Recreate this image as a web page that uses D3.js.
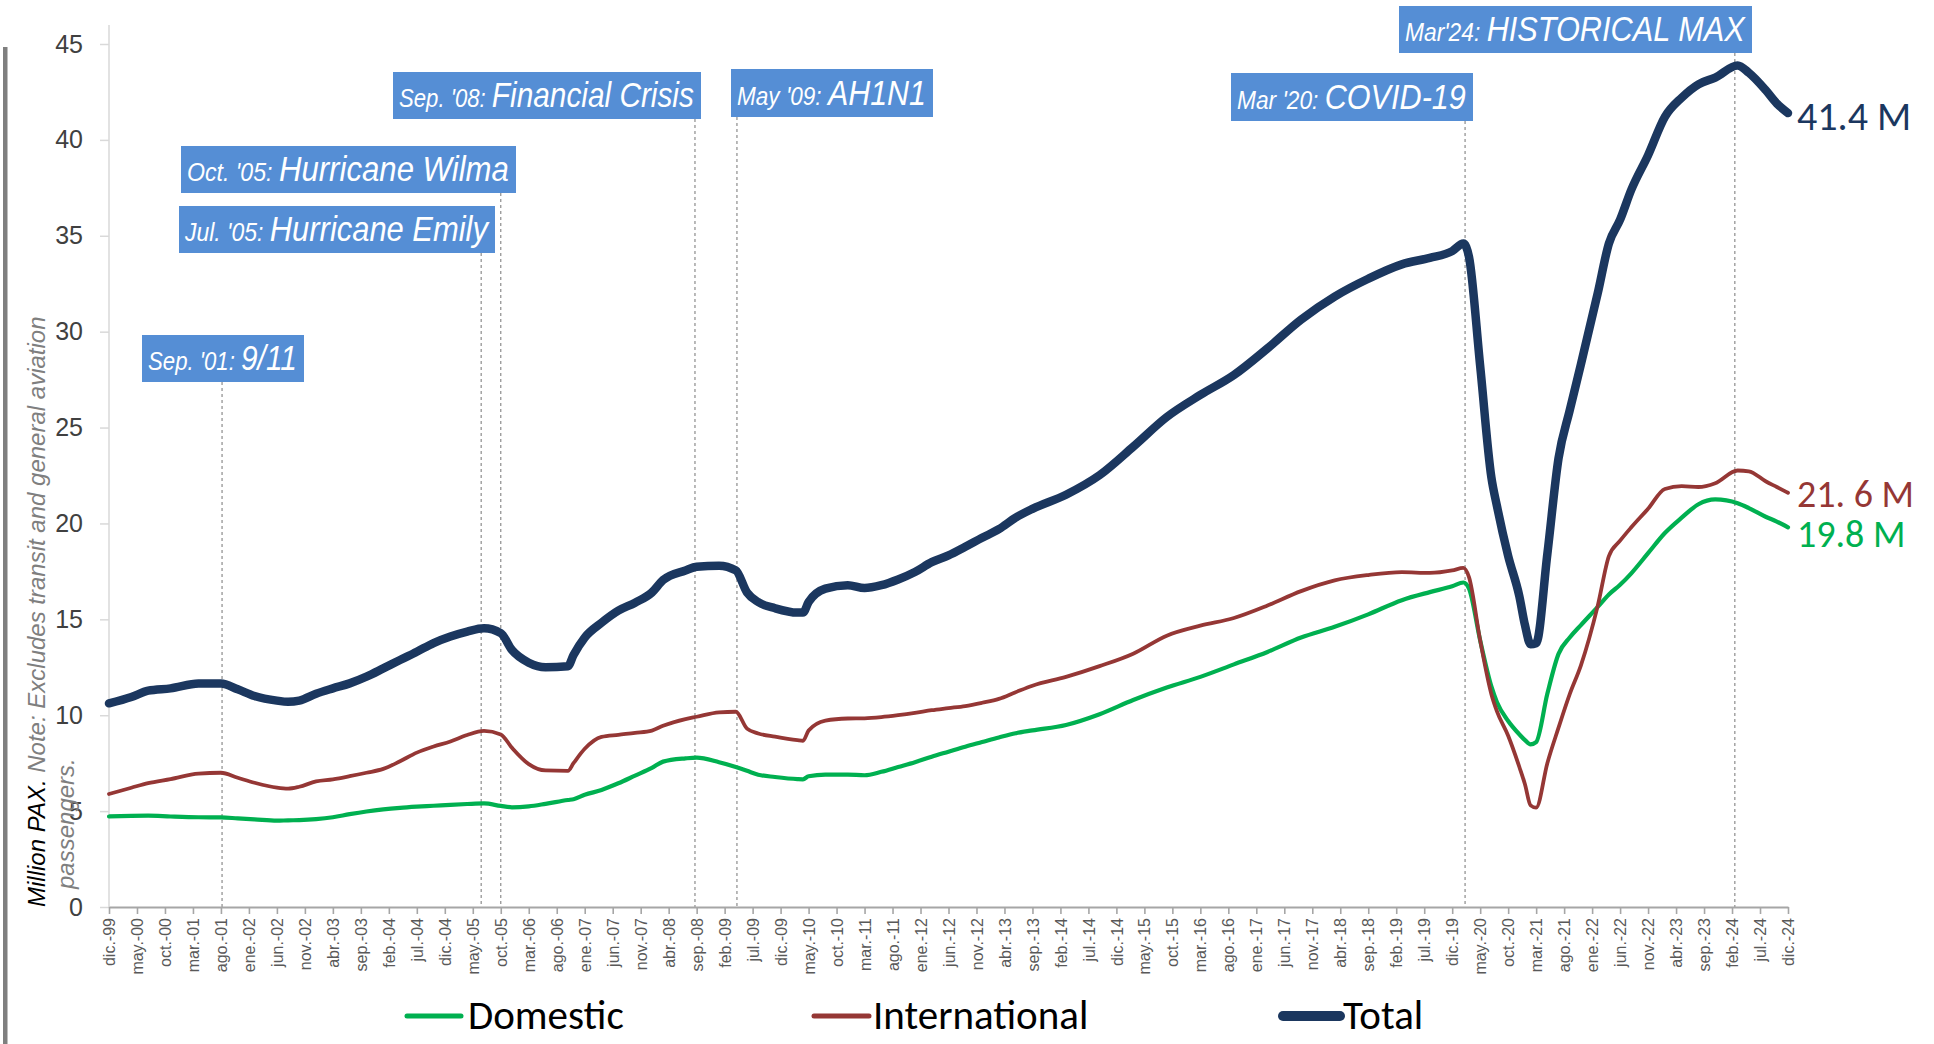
<!DOCTYPE html>
<html>
<head>
<meta charset="utf-8">
<script src="https://cdn.jsdelivr.net/npm/d3@7"></script>
<style>
body { margin: 0; background: #fff; }
svg { display: block; }
</style>
</head>
<body>
<script>
const months = ["1999-12","2000-04","2000-07","2000-11","2001-04","2001-08","2001-11","2002-02","2002-06","2002-08",
  "2002-10","2003-01","2003-04","2003-07","2003-10","2004-01","2004-04","2004-07","2004-10","2005-01",
  "2005-04","2005-07","2005-10","2005-12","2006-03","2006-06","2006-10","2006-11","2007-01","2007-04",
  "2007-07","2007-10","2008-01","2008-03","2008-07","2008-09","2009-01","2009-04","2009-06","2009-08",
  "2009-11","2010-03","2010-04","2010-05","2010-08","2010-12","2011-03","2011-06","2011-09","2011-12",
  "2012-03","2012-06","2012-09","2012-12","2013-03","2013-06","2013-09","2014-03","2014-09","2015-03",
  "2015-09","2016-03","2016-09","2017-03","2017-09","2018-03","2018-09","2019-03","2019-08","2019-12",
  "2020-02","2020-03","2020-05","2020-07","2020-08","2020-10","2020-12","2021-01","2021-02","2021-03",
  "2021-05","2021-07","2021-09","2021-11","2022-02","2022-04","2022-06","2022-08","2022-11","2023-02",
  "2023-05","2023-08","2023-11","2024-03","2024-05","2024-08","2024-10","2024-12"];

const total = [10.62,10.95,11.28,11.40,11.65,11.66,11.35,11.0,10.76,10.70,
  10.76,11.12,11.40,11.66,12.01,12.44,12.88,13.31,13.76,14.1,
  14.36,14.53,14.28,13.4,12.74,12.5,12.55,13.14,14.05,14.82,
  15.45,15.87,16.4,17.05,17.55,17.74,17.8,17.55,16.4,15.9,
  15.58,15.35,15.35,15.9,16.6,16.78,16.63,16.78,17.08,17.47,
  17.98,18.33,18.78,19.25,19.7,20.3,20.76,21.5,22.52,24.0,
  25.55,26.7,27.74,29.13,30.63,31.83,32.76,33.51,33.85,34.2,
  34.6,33.9,28.2,22.4,20.9,18.3,16.2,14.7,13.7,13.75,
  18.4,23.4,25.9,28.3,32.0,34.6,35.84,37.4,39.2,41.2,
  42.2,42.9,43.25,43.88,43.5,42.6,41.9,41.4];

const international = [5.89,6.22,6.46,6.67,6.96,7.0,6.74,6.48,6.22,6.17,
  6.27,6.55,6.66,6.82,7.0,7.2,7.6,8.05,8.37,8.63,
  8.97,9.18,9.0,8.3,7.45,7.12,7.1,7.5,8.25,8.87,
  8.98,9.08,9.2,9.45,9.8,9.92,10.15,10.18,9.3,9.05,
  8.88,8.7,8.67,9.2,9.72,9.83,9.84,9.9,10.0,10.12,
  10.26,10.37,10.48,10.65,10.85,11.2,11.54,12.0,12.56,13.21,
  14.15,14.67,15.07,15.72,16.47,17.03,17.31,17.46,17.42,17.55,
  17.68,17.2,13.9,11.1,10.2,8.93,7.3,6.4,5.3,5.18,
  7.5,9.35,11.1,12.6,15.7,18.3,19.1,19.8,20.77,21.8,
  21.95,21.9,22.1,22.76,22.72,22.2,21.9,21.6];

const domestic = [4.72,4.75,4.76,4.72,4.68,4.67,4.62,4.57,4.50,4.52,
  4.53,4.58,4.68,4.84,4.98,5.09,5.17,5.23,5.28,5.33,
  5.37,5.40,5.27,5.2,5.25,5.38,5.58,5.62,5.85,6.1,
  6.45,6.85,7.25,7.58,7.75,7.79,7.55,7.3,7.1,6.9,
  6.78,6.67,6.66,6.82,6.9,6.9,6.87,7.05,7.3,7.55,
  7.84,8.1,8.36,8.6,8.84,9.06,9.21,9.49,10.05,10.79,
  11.44,12.0,12.65,13.3,14.05,14.61,15.26,16.0,16.42,16.72,
  16.92,16.6,13.9,11.5,10.68,9.7,9.0,8.7,8.48,8.6,
  11.12,13.2,14.05,14.7,15.65,16.3,16.8,17.4,18.45,19.5,
  20.3,21.0,21.25,21.05,20.8,20.35,20.1,19.8];

const tickLabels = ["dic.-99","may.-00","oct.-00","mar.-01","ago.-01","ene.-02","jun.-02","nov.-02","abr.-03","sep.-03",
  "feb.-04","jul.-04","dic.-04","may.-05","oct.-05","mar.-06","ago.-06","ene.-07","jun.-07","nov.-07",
  "abr.-08","sep.-08","feb.-09","jul.-09","dic.-09","may.-10","oct.-10","mar.-11","ago.-11","ene.-12",
  "jun.-12","nov.-12","abr.-13","sep.-13","feb.-14","jul.-14","dic.-14","may.-15","oct.-15","mar.-16",
  "ago.-16","ene.-17","jun.-17","nov.-17","abr.-18","sep.-18","feb.-19","jul.-19","dic.-19","may.-20",
  "oct.-20","mar.-21","ago.-21","ene.-22","jun.-22","nov.-22","abr.-23","sep.-23","feb.-24","jul.-24","dic.-24"];
const yTicks = [0,5,10,15,20,25,30,35,40,45];

const seriesNames = ["Domestic","International","Total"];
const endLabels = ["19.8 M","21. 6 M","41.4 M"];

// events: months after dic-99 where the dashed lines sit
const eventAt = [20.2, 66.5, 70, 104.7, 112.2, 242.3, 290.5];
const eventPrefix = ["Sep. '01:","Jul. '05:","Oct. '05:","Sep. '08:","May '09:","Mar '20:","Mar'24:"];
const eventTitle = ["9/11","Hurricane Emily","Hurricane Wilma","Financial Crisis","AH1N1","COVID-19","HISTORICAL MAX"];

// layout
const W = 1934, H = 1044;
const boxes = [[142,335,304,382],[179,206,495,253],[181,146,516,193],[393,72,701,119],
  [731,69,933,117],[1231,73,1473,121],[1399,6,1752,53]];
const colors = ["#00b050","#953735","#1b375f"];
const widths = [4.2,3.8,8.5];
const sans = "'Liberation Sans',Arial,sans-serif";
const calib = "Carlito,Lato,'Open Sans',sans-serif";

function monthIndex(s){
	let p = s.split("-");
	return (+p[0] - 1999) * 12 + (+p[1]) - 12;
}
const mi = months.map(monthIndex);

const svg = d3.select("body").append("svg")
	.attr("width", W).attr("height", H);

const x = d3.scaleLinear().domain([0, 300]).range([109, 1788]);
const y = d3.scaleLinear().domain([0, 45]).range([907, 44]);

// grey bar at far left
svg.append("rect").attr("x", 3).attr("y", 47).attr("width", 4.5).attr("height", H - 47).attr("fill", "#7f7f7f");

// y axis
const yAxis = svg.append("g").attr("transform", "translate(109,0)")
	.call(d3.axisLeft(y).tickValues(yTicks).tickSize(9).tickPadding(17));
yAxis.select(".domain").remove();
yAxis.selectAll(".tick line").attr("stroke", "#d9d9d9").attr("stroke-width", 1.5);
yAxis.selectAll(".tick text")
	.attr("font-family", sans).attr("font-size", 25).attr("fill", "#404040");
svg.append("line").attr("x1", 109).attr("x2", 109).attr("y1", 25).attr("y2", 907)
	.attr("stroke", "#d9d9d9").attr("stroke-width", 1.5);

// y title
const yt = svg.append("text").attr("transform", "translate(45,907) rotate(-90)")
	.attr("font-family", sans).attr("font-style", "italic").attr("font-size", 24);
yt.append("tspan").attr("fill", "#000").text("Million PAX.");
yt.append("tspan").attr("fill", "#7f7f7f").text(" Note: Excludes transit and general aviation");
svg.append("text").attr("transform", "translate(74,889) rotate(-90)")
	.attr("font-family", sans).attr("font-style", "italic").attr("font-size", 24)
	.attr("fill", "#7f7f7f").text("passengers.");

// event dashed lines
eventAt.forEach(function(m, i){
	svg.append("line")
		.attr("x1", x(m)).attr("x2", x(m))
		.attr("y1", boxes[i][3]).attr("y2", 907)
		.attr("stroke", "#8c8c8c").attr("stroke-width", 1.2).attr("stroke-dasharray", "3,3");
});

// x axis
const xAxis = svg.append("g").attr("transform", "translate(0,907)")
	.call(d3.axisBottom(x).tickValues(tickLabels.map((d, i) => i * 5))
		.tickFormat((d, i) => tickLabels[i]).tickSize(7).tickSizeOuter(0));
xAxis.select(".domain").attr("stroke", "#a6a6a6").attr("stroke-width", 2.2);
xAxis.selectAll(".tick line").attr("stroke", "#a6a6a6").attr("stroke-width", 1.6);
xAxis.selectAll(".tick text")
	.attr("transform", "rotate(-90)")
	.attr("x", -11).attr("y", 0).attr("dy", "0.35em")
	.attr("text-anchor", "end")
	.attr("font-family", sans).attr("font-size", 16).attr("fill", "#595959");

// series
const line = d3.line()
	.x((d, i) => x(mi[i]))
	.y(d => y(d))
	.curve(d3.curveMonotoneX);
[domestic, international, total].forEach(function(s, k){
	svg.append("path").datum(s)
		.attr("d", line)
		.attr("fill", "none")
		.attr("stroke", colors[k])
		.attr("stroke-width", widths[k])
		.attr("stroke-linejoin", "round")
		.attr("stroke-linecap", "round");
});

// event boxes, text squeezed to fit like a narrow font
eventAt.forEach(function(m, i){
	let b = boxes[i];
	svg.append("rect").attr("x", b[0]).attr("y", b[1])
		.attr("width", b[2] - b[0]).attr("height", b[3] - b[1]).attr("fill", "#558ed5");
	let t = svg.append("text").attr("fill", "#fff")
		.attr("font-family", sans).attr("font-style", "italic");
	t.append("tspan").attr("font-size", 26).text(eventPrefix[i] + " ");
	t.append("tspan").attr("font-size", 35).text(eventTitle[i]);
	let w = t.node().getComputedTextLength();
	let avail = b[2] - b[0] - 13;
	t.attr("transform", "translate(" + (b[0] + 6) + "," + (b[3] - 12) + ") scale(" + (avail / w) + ",1)");
});

// end labels
const endY = [547, 507, 130];
const endSize = [38, 38, 40];
[domestic, international, total].forEach(function(s, k){
	svg.append("text").attr("x", 1797).attr("y", endY[k])
		.attr("font-family", calib).attr("font-size", endSize[k])
		.attr("fill", colors[k]).text(endLabels[k]);
});

// legend
const legX = [[407,461,468],[814,869,873],[1283,1340,1343]];
const legW = [5,5,10];
seriesNames.forEach(function(n, k){
	svg.append("line").attr("x1", legX[k][0]).attr("x2", legX[k][1])
		.attr("y1", 1016).attr("y2", 1016)
		.attr("stroke", colors[k]).attr("stroke-width", legW[k]).attr("stroke-linecap", "round");
	svg.append("text").attr("x", legX[k][2]).attr("y", 1029)
		.attr("font-family", calib).attr("font-size", 41).attr("fill", "#000").text(n);
});
</script>
</body>
</html>
